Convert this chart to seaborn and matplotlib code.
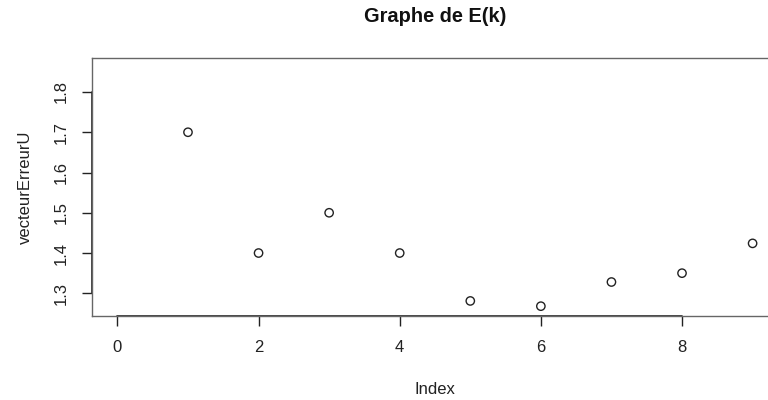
import matplotlib
matplotlib.use("Agg")
import matplotlib.pyplot as plt
import seaborn as sns
import pandas as pd

# Data
index = [1, 2, 3, 4, 5, 6, 7, 8, 9]
vecteurErreurU = [1.70, 1.40, 1.50, 1.40, 1.281, 1.268, 1.328, 1.350, 1.424]
x_ticks = [0, 2, 4, 6, 8]
y_ticks = [1.3, 1.4, 1.5, 1.6, 1.7, 1.8]
title = "Graphe de E(k)"
xlabel = "Index"
ylabel = "vecteurErreurU"

sns.set_style("white")
plt.rcParams['font.family'] = ['Liberation Sans', 'DejaVu Sans']

df = pd.DataFrame({"Index": index, "vecteurErreurU": vecteurErreurU})

fig = plt.figure(figsize=(7.68, 4.0), dpi=100)
ax = fig.add_axes([92/768, 1 - 316/400, (778 - 92)/768, (316 - 58)/400])

sns.scatterplot(data=df, x="Index", y="vecteurErreurU", ax=ax,
                marker="o", s=36, facecolors="none", edgecolor="#222222",
                linewidth=1.0, legend=False)

ax.set_xlim(-0.36, 9.36)
ax.set_ylim(1.2436, 1.8844)
ax.set_xticks(x_ticks)
ax.set_xticklabels([str(t) for t in x_ticks])
ax.set_yticks(y_ticks)
ax.set_yticklabels([f"{t:.1f}" for t in y_ticks], rotation=90, va="center")

for s in ax.spines.values():
    s.set_color("#666666")
    s.set_linewidth(1.0)
    s.set_visible(True)

# axis lines spanning tick range (like R's axis())
ax.plot([x_ticks[0], x_ticks[-1]], [0, 0], transform=ax.get_xaxis_transform(),
        color="#222222", lw=1.2, clip_on=False)
ax.plot([0, 0], [y_ticks[0], y_ticks[-1]], transform=ax.get_yaxis_transform(),
        color="#222222", lw=1.2, clip_on=False)

ax.tick_params(axis="both", direction="out", length=7, width=1.0, color="#222222",
               labelsize=12, labelcolor="#222222", bottom=True, left=True)
ax.tick_params(axis="x", pad=10)
ax.tick_params(axis="y", pad=10)

ax.set_xlabel(xlabel, fontsize=12, color="#222222", labelpad=20)
ax.set_ylabel(ylabel, fontsize=12, color="#222222", labelpad=15)
fig.text(435/768, 1 - 17/400, title, ha="center", va="center",
         fontsize=14.4, fontweight="bold", color="#111111")

fig.savefig("out.png", dpi=100)
